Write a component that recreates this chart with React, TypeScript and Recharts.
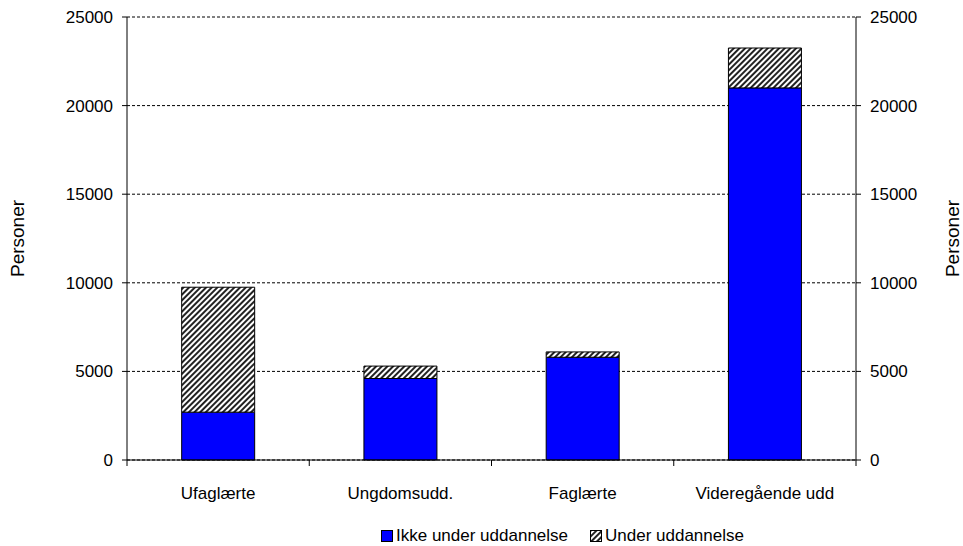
import React from 'react'
import { BarChart, Bar, XAxis, YAxis, CartesianGrid, Legend } from 'recharts'

const categories = ['Ufaglærte', 'Ungdomsudd.', 'Faglærte', 'Videregående udd']
const ikkeUnder = [2700, 4600, 5800, 21000]
const underUdd = [7050, 700, 300, 2250]
const yTicks = [0, 5000, 10000, 15000, 20000, 25000]
const seriesNames = ['Ikke under uddannelse', 'Under uddannelse']

const FONT = '"Liberation Sans", Arial, sans-serif'
const FS = 17

const data = categories.map((name, i) => ({
  name,
  ikke: ikkeUnder[i],
  under: underUdd[i],
}))

function CategoryTick(props: any) {
  const { x, y, payload, index } = props
  const half = payload?.offset ?? 91
  return (
    <g>
      <line x1={x - half} x2={x - half} y1={y} y2={y + 6} stroke="#000" />
      {index === categories.length - 1 && (
        <line x1={x + half} x2={x + half} y1={y} y2={y + 6} stroke="#000" />
      )}
      <text x={x} y={y + 33} dy="0.355em" textAnchor="middle" fill="#000" fontSize={FS} fontFamily={FONT}>
        {payload.value}
      </text>
    </g>
  )
}

function LegendContent() {
  return (
    <div style={{ height: 30, fontFamily: FONT, fontSize: FS, color: '#000' }}>
      <div style={{ display: 'flex', alignItems: 'center', paddingLeft: 381, position: 'relative', top: 10 }}>
        <span style={{ display: 'inline-block', width: 10, height: 10, background: '#0000FF', border: '1px solid #000', marginRight: 3 }} />
        <span style={{ marginRight: 22 }}>{seriesNames[0]}</span>
        <svg width={12} height={12} style={{ marginRight: 3 }}>
          <rect x={0.5} y={0.5} width={11} height={11} fill="url(#hatch)" stroke="#000" />
        </svg>
        <span>{seriesNames[1]}</span>
      </div>
    </div>
  )
}

export default function App() {
  return (
    <div style={{ position: 'relative', width: 963, height: 546 }}>
      <style>{`body{margin:0}`}</style>
      <svg width={0} height={0} style={{ position: 'absolute' }}>
        <defs>
          <pattern id="hatch" width={4} height={4} patternUnits="userSpaceOnUse" patternTransform="rotate(45)">
            <rect width={4} height={4} fill="#fff" />
            <rect width={2} height={4} fill="#222" />
          </pattern>
        </defs>
      </svg>
      <BarChart
        width={963}
        height={546}
        data={data}
        margin={{ top: 17, right: 0, bottom: 0, left: 0 }}
        barCategoryGap="30%"
        style={{ fontFamily: FONT }}
      >
        <CartesianGrid yAxisId="left" vertical={false} stroke="#000" strokeDasharray="3 2" />
        <XAxis
          dataKey="name"
          interval={0}
          height={56}
          tickLine={false}
          tickSize={0}
          tickMargin={0}
          axisLine={{ stroke: '#000' }}
          tick={<CategoryTick />}
        />
        <YAxis
          yAxisId="left"
          width={127}
          domain={[0, 25000]}
          ticks={yTicks}
          interval={0}
          axisLine={{ stroke: '#000' }}
          tickLine={{ stroke: '#000' }}
          tickSize={5}
          tickMargin={9}
          tick={{ fill: '#000', fontSize: FS, fontFamily: FONT }}
          label={{ value: 'Personer', angle: -90, position: 'insideLeft', offset: 17, style: { textAnchor: 'middle', fill: '#000', fontSize: 19, fontFamily: FONT } }}
        />
        <YAxis
          yAxisId="right"
          orientation="right"
          width={107}
          domain={[0, 25000]}
          ticks={yTicks}
          interval={0}
          allowDataOverflow
          axisLine={{ stroke: '#000' }}
          tickLine={{ stroke: '#000' }}
          tickSize={5}
          tickMargin={9}
          tick={{ fill: '#000', fontSize: FS, fontFamily: FONT }}
          label={{ value: 'Personer', angle: -90, position: 'insideRight', offset: 11, style: { textAnchor: 'middle', fill: '#000', fontSize: 19, fontFamily: FONT } }}
        />
        <Legend verticalAlign="bottom" align="center" content={<LegendContent />} />
        <Bar yAxisId="left" dataKey="ikke" name={seriesNames[0]} stackId="a" fill="#0000FF" stroke="#000" strokeWidth={1} isAnimationActive={false} />
        <Bar yAxisId="left" dataKey="under" name={seriesNames[1]} stackId="a" fill="url(#hatch)" stroke="#000" strokeWidth={1} isAnimationActive={false} />
      </BarChart>
    </div>
  )
}
